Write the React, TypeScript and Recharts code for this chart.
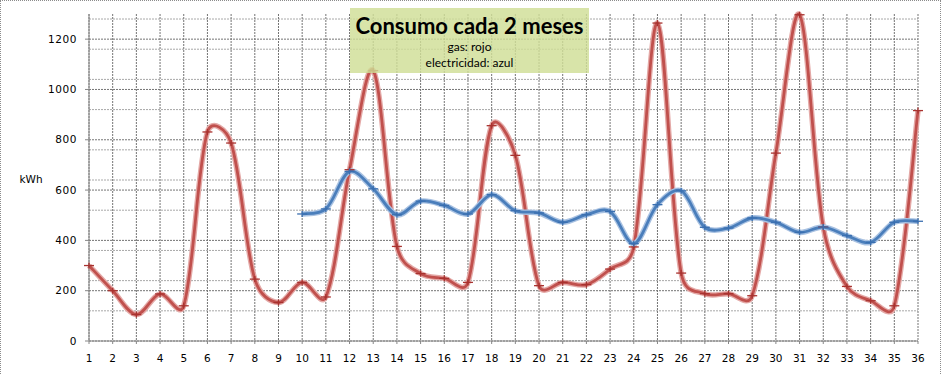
import React from 'react';
import {
  LineChart,
  Line,
  XAxis,
  YAxis,
  CartesianGrid,
  Label,
} from 'recharts';

// meses (cada 2 meses) y consumos en kWh
const meses = [1, 2, 3, 4, 5, 6, 7, 8, 9, 10, 11, 12, 13, 14, 15, 16, 17, 18, 19, 20, 21, 22, 23, 24, 25, 26, 27, 28, 29, 30, 31, 32, 33, 34, 35, 36];
const gas = [300, 200, 105, 187, 140, 831, 787, 246, 153, 233, 175, 681, 1075, 376, 268, 249, 233, 856, 738, 220, 233, 224, 286, 374, 1264, 270, 188, 188, 180, 747, 1297, 453, 217, 160, 140, 916];
const electricidad = [null, null, null, null, null, null, null, null, null, 505, 525, 674, 605, 502, 556, 539, 505, 582, 518, 509, 472, 502, 515, 387, 542, 597, 452, 449, 489, 472, 432, 453, 419, 392, 472, 476];

const yTicks = [0, 200, 400, 600, 800, 1000, 1200];
const yMinor = [40, 80, 120, 160, 240, 280, 320, 360, 440, 480, 520, 560, 640, 680, 720, 760, 840, 880, 920, 960, 1040, 1080, 1120, 1160, 1240, 1280];

const data = meses.map((m, i) => ({ mes: m, gas: gas[i], elec: electricidad[i] }));

const ROJO = '#c0504d';
const ROJO_HALO = '#e4a9a7';
const AZUL = '#4a7ebb';
const AZUL_HALO = '#a9c2e2';

// suavizado tipo Excel: bezier con tangentes de Catmull-Rom,
// acortadas cuando los tramos vecinos tienen longitudes muy distintas
function curvaSuave(context: any) {
  let xs: number[] = [];
  let ys: number[] = [];
  const dist = (i: number, j: number) => Math.hypot(xs[j] - xs[i], ys[j] - ys[i]);
  return {
    areaStart() {},
    areaEnd() {},
    lineStart() {
      xs = [];
      ys = [];
    },
    point(x: number, y: number) {
      xs.push(+x);
      ys.push(+y);
    },
    lineEnd() {
      const n = xs.length;
      if (!n) return;
      context.moveTo(xs[0], ys[0]);
      for (let i = 0; i < n - 1; i++) {
        const a = Math.max(i - 1, 0);
        const d = Math.min(i + 2, n - 1);
        const seg = dist(i, i + 1);
        const prev = a === i ? seg : dist(a, i);
        const next = d === i + 1 ? seg : dist(i + 1, d);
        const f1 = Math.sqrt((2 * seg) / (prev + seg || 1)) / 6;
        const f2 = Math.sqrt((2 * seg) / (next + seg || 1)) / 6;
        const c1x = xs[i] + (xs[i + 1] - xs[a]) * f1;
        const c1y = ys[i] + (ys[i + 1] - ys[a]) * f1;
        const c2x = xs[i + 1] - (xs[d] - xs[i]) * f2;
        const c2y = ys[i + 1] - (ys[d] - ys[i]) * f2;
        context.bezierCurveTo(c1x, c1y, c2x, c2y, xs[i + 1], ys[i + 1]);
      }
    },
  };
}

const cruz = (color: string) => (props: any) => {
  const { cx, cy, index, value } = props;
  if (cx == null || cy == null || value == null) return <g key={index} />;
  return (
    <g key={index}>
      <line x1={cx - 5} x2={cx + 5} y1={cy} y2={cy} stroke={color} strokeWidth={1.3} />
      <line x1={cx} x2={cx} y1={cy - 3} y2={cy + 3} stroke={color} strokeWidth={1.3} />
    </g>
  );
};

const tickStyle = { fontFamily: 'DejaVu Sans', fontSize: 10.5, fill: '#000' };

export default function App() {
  return (
    <div style={{ position: 'absolute', left: 0, top: 0, width: 948, height: 374, background: '#fff' }}>
      <div
        style={{
          position: 'absolute',
          left: 0,
          top: 0,
          width: 941,
          height: 378,
          boxSizing: 'border-box',
          border: '1px dotted #8c8c8c',
        }}
      />
      <LineChart
        width={941}
        height={374}
        data={data}
        margin={{ top: 14, right: 23, left: 29, bottom: 0 }}
        style={{ position: 'absolute', left: 0, top: 0 }}
      >
        <CartesianGrid
          horizontalValues={yMinor}
          vertical={false}
          stroke="#a8a8a8"
          strokeDasharray="2 1"
        />
        <CartesianGrid
          horizontalValues={yTicks}
          verticalValues={meses}
          stroke="#747474"
          strokeDasharray="2 1"
        />
        <XAxis
          dataKey="mes"
          type="number"
          domain={[1, 36]}
          ticks={meses}
          interval={0}
          height={33}
          tickSize={3}
          tickMargin={11}
          tick={tickStyle}
          stroke="#868686"
          allowDecimals={false}
        />
        <YAxis
          type="number"
          domain={[0, 1300]}
          ticks={yTicks}
          width={60}
          tickSize={4}
          tickMargin={8}
          tick={{ ...tickStyle, letterSpacing: 0.6 }}
          stroke="#868686"
        >
          <Label
            content={() => (
              <text x={31} y={183} textAnchor="middle" fontFamily="DejaVu Sans" fontSize={10.5} fill="#000">
                kWh
              </text>
            )}
          />
        </YAxis>
        <Line
          dataKey="gas"
          type={curvaSuave as any}
          stroke={ROJO_HALO}
          strokeWidth={5.5}
          dot={false}
          activeDot={false}
          isAnimationActive={false}
        />
        <Line
          dataKey="gas"
          type={curvaSuave as any}
          stroke={ROJO}
          strokeWidth={2.8}
          dot={cruz('#a8322f')}
          activeDot={false}
          isAnimationActive={false}
        />
        <Line
          dataKey="elec"
          type={curvaSuave as any}
          stroke={AZUL_HALO}
          strokeWidth={5.5}
          dot={false}
          activeDot={false}
          isAnimationActive={false}
        />
        <Line
          dataKey="elec"
          type={curvaSuave as any}
          stroke={AZUL}
          strokeWidth={2.8}
          dot={cruz('#3a6fb0')}
          activeDot={false}
          isAnimationActive={false}
        />
      </LineChart>
      <div
        style={{
          position: 'absolute',
          left: 350,
          top: 8,
          width: 239,
          height: 65,
          background: 'rgba(208, 222, 150, 0.82)',
          textAlign: 'center',
          fontFamily: 'Lato',
          color: '#000',
        }}
      >
        <div style={{ fontSize: 22, fontWeight: 700, lineHeight: '26px', marginTop: 5 }}>Consumo cada 2 meses</div>
        <div style={{ fontSize: 12, lineHeight: '16px', marginTop: 0 }}>gas: rojo</div>
        <div style={{ fontSize: 12, lineHeight: '16px' }}>electricidad: azul</div>
      </div>
    </div>
  );
}
